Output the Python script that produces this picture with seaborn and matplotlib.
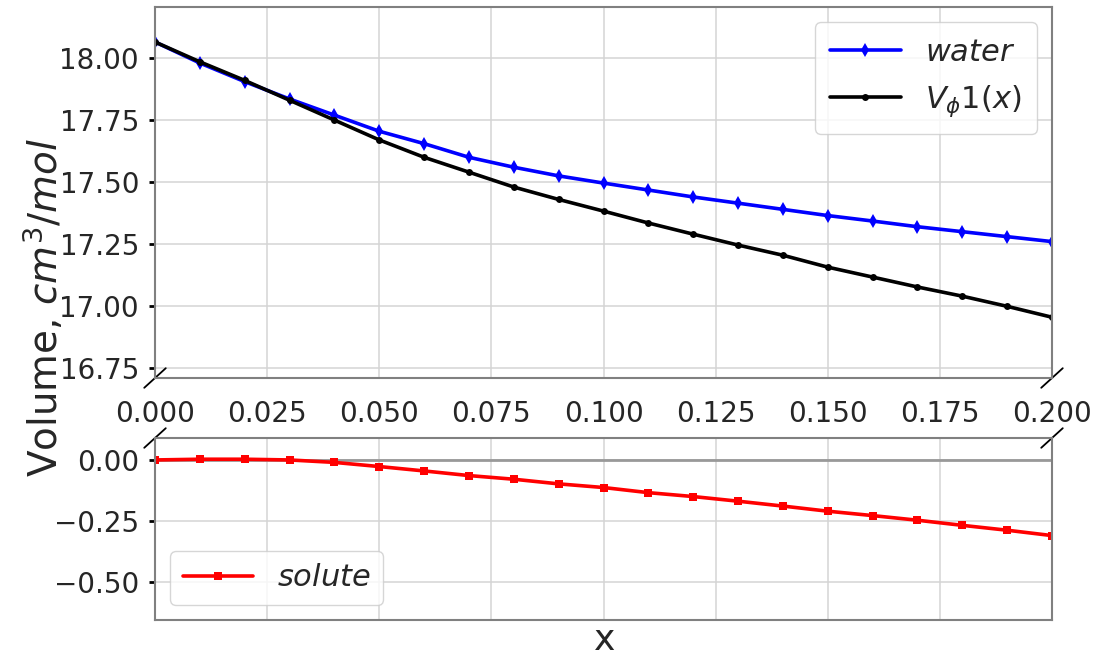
import numpy as np
import pandas as pd
import matplotlib
matplotlib.use("Agg")
import matplotlib.pyplot as plt
import seaborn as sns

x_vals = [0.00, 0.01, 0.02, 0.03, 0.04, 0.05, 0.06, 0.07, 0.08, 0.09, 0.10,
          0.11, 0.12, 0.13, 0.14, 0.15, 0.16, 0.17, 0.18, 0.19, 0.20]
water = [18.065, 17.98, 17.905, 17.835, 17.77, 17.705, 17.655, 17.60, 17.56, 17.525, 17.496,
         17.468, 17.44, 17.415, 17.39, 17.365, 17.343, 17.32, 17.30, 17.28, 17.26]
vphi1 = [18.065, 17.985, 17.91, 17.83, 17.75, 17.67, 17.60, 17.54, 17.48, 17.43, 17.383,
         17.335, 17.29, 17.246, 17.205, 17.157, 17.117, 17.077, 17.04, 16.999, 16.955]
solute = [0.0, 0.003, 0.003, 0.0, -0.01, -0.027, -0.045, -0.064, -0.079, -0.098, -0.113,
          -0.134, -0.15, -0.169, -0.189, -0.21, -0.228, -0.247, -0.268, -0.288, -0.31]
xticks = [0.000, 0.025, 0.050, 0.075, 0.100, 0.125, 0.150, 0.175, 0.200]
top_yticks = [16.75, 17.00, 17.25, 17.50, 17.75, 18.00]
bot_yticks = [-0.50, -0.25, 0.00]

sns.set_theme(style="whitegrid")
plt.rcParams['font.family'] = ['DejaVu Sans']
plt.rcParams['axes.edgecolor'] = '#808080'
plt.rcParams['grid.color'] = '#d4d4d4'
plt.rcParams['grid.linewidth'] = 1.1

df = pd.DataFrame({"x": x_vals, "water": water, "vphi": vphi1, "solute": solute})

fig = plt.figure(figsize=(11.15, 6.58), dpi=100)
ax1 = fig.add_axes([155/1115, 1 - 378/658, (1052-155)/1115, (378-7)/658])
ax2 = fig.add_axes([155/1115, 1 - 620/658, (1052-155)/1115, (620-438)/658])

sns.lineplot(data=df, x="x", y="water", ax=ax1, color="blue", marker="d",
             markersize=7, linewidth=2.6, label="$water$", markeredgewidth=0)
sns.lineplot(data=df, x="x", y="vphi", ax=ax1, color="black", marker="o",
             markersize=5, linewidth=2.6, label="$V_{\\phi}1(x)$", markeredgewidth=0)
sns.lineplot(data=df, x="x", y="solute", ax=ax2, color="red", marker="s",
             markersize=6, linewidth=2.6, label="$solute$", markeredgewidth=0)
ax2.axhline(0, color="#999999", linewidth=2.0, zorder=1)

def fmt(v, n):
    return f"{v:.{n}f}".replace("-", "\u2212")

for ax in (ax1, ax2):
    ax.set_xlim(0, 0.2)
    ax.set_xticks(xticks)
    ax.set_xlabel("")
    ax.set_ylabel("")
    ax.tick_params(axis="y", which="major", left=True, length=4.5, width=2,
                   color="black", labelsize=20, pad=7, labelcolor="#262626")
    ax.tick_params(axis="x", bottom=False, labelsize=20, labelcolor="#262626")
    for s in ax.spines.values():
        s.set_color("#808080")
        s.set_linewidth(1.5)

ax1.set_ylim(16.71, 18.206)
ax1.set_yticks(top_yticks)
ax1.set_yticklabels([fmt(v, 2) for v in top_yticks])
ax1.set_xticklabels([fmt(v, 3) for v in xticks])
ax1.tick_params(axis="x", pad=10)

ax2.set_ylim(-0.656, 0.09)
ax2.set_yticks(bot_yticks)
ax2.set_yticklabels([fmt(v, 2) for v in bot_yticks])
ax2.set_xticklabels([])

ax1.legend(loc="upper right", fontsize=22, handlelength=2.3, borderpad=0.5,
           labelspacing=0.55)
ax2.legend(loc="lower left", fontsize=22, handlelength=2.3, borderpad=0.4)

# break marks
d = 0.012
kw = dict(color="black", linewidth=1.3, clip_on=False)
r = (378-7)/(620-438)
ax1.plot((-d, +d), (-d*2.2, +d*2.2), transform=ax1.transAxes, **kw)
ax1.plot((1 - d, 1 + d), (-d*2.2, +d*2.2), transform=ax1.transAxes, **kw)
ax2.plot((-d, +d), (1 - d*2.2*r, 1 + d*2.2*r), transform=ax2.transAxes, **kw)
ax2.plot((1 - d, 1 + d), (1 - d*2.2*r, 1 + d*2.2*r), transform=ax2.transAxes, **kw)

fig.text(44/1115, 1 - 307/658, "Volume, $cm^3/mol$", rotation=90, fontsize=28,
         ha="center", va="center", color="#262626")
fig.text(605/1115, 1 - 640/658, "x", fontsize=26, ha="center", va="center",
         color="#262626")

fig.savefig("out.png", dpi=100)
